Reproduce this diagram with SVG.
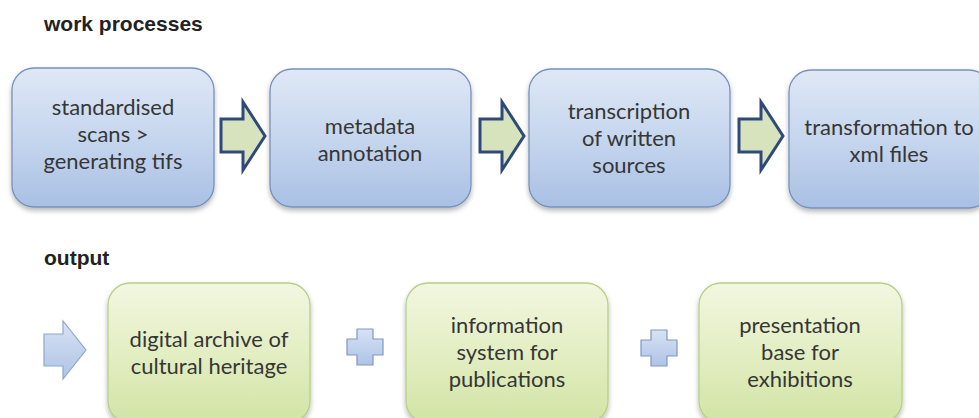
<svg xmlns="http://www.w3.org/2000/svg" width="979" height="418" viewBox="0 0 979 418">
  <defs>
    <linearGradient id="blueFill" x1="0" y1="0" x2="0" y2="1">
      <stop offset="0" stop-color="#dfe8f6"/>
      <stop offset="0.5" stop-color="#c6d6ee"/>
      <stop offset="1" stop-color="#a9c0e4"/>
    </linearGradient>
    <linearGradient id="greenFill" x1="0" y1="0" x2="0" y2="1">
      <stop offset="0" stop-color="#f2f7e1"/>
      <stop offset="0.5" stop-color="#e3eec3"/>
      <stop offset="1" stop-color="#d2e4a5"/>
    </linearGradient>
    <linearGradient id="smallBlue" x1="0" y1="0" x2="0" y2="1">
      <stop offset="0" stop-color="#d7e2f4"/>
      <stop offset="1" stop-color="#aec3e6"/>
    </linearGradient>
    <filter id="shadow" x="-10%" y="-10%" width="120%" height="125%">
      <feDropShadow dx="0" dy="3" stdDeviation="2.5" flood-color="#000" flood-opacity="0.28"/>
    </filter>
    <!-- right-pointing block arrow between process steps -->
    <path id="stepArrow" d="M221,119 H243 V102 L265,136 L243,170 V152 H221 Z"/>
    <!-- plus sign between outputs -->
    <path id="plusSign" d="M-8,-18 H8 V-8 H18 V8 H8 V18 H-8 V8 H-18 V-8 H-8 Z"/>
  </defs>
  <style>
    .title { font-family: "Liberation Sans", Arial, sans-serif; font-weight: bold; font-size: 21px; fill: #222; }
    .label { font-family: Lato, "Open Sans", sans-serif; font-size: 22px; fill: #363636; text-anchor: middle; }
    .procBox { fill: url(#blueFill); stroke: #7891bb; stroke-width: 1.3; filter: url(#shadow); }
    .outBox { fill: url(#greenFill); stroke: #b8cf86; stroke-width: 1.3; filter: url(#shadow); }
    .flow { fill: #d6e3bd; stroke: #2f4a7a; stroke-width: 3; stroke-linejoin: miter; }
    .lead { fill: url(#smallBlue); stroke: #8fa7d0; stroke-width: 1.2; }
    .plus { fill: url(#smallBlue); stroke: #7f97c2; stroke-width: 1.2; stroke-linejoin: round; }
  </style>

  <rect width="979" height="418" fill="#ffffff"/>

  <text class="title" x="44" y="31">work processes</text>
  <text class="title" x="44" y="265">output</text>

  <g id="connectors">
    <use href="#stepArrow" class="flow"/>
    <use href="#stepArrow" class="flow" transform="translate(259,0)"/>
    <use href="#stepArrow" class="flow" transform="translate(518,0)"/>
    <path class="lead" d="M44,334 H63 V321 L86,350 L63,379 V366 H44 Z"/>
    <use href="#plusSign" class="plus" transform="translate(365,347)"/>
    <use href="#plusSign" class="plus" transform="translate(659,348)"/>
  </g>

  <g id="scans">
    <rect class="procBox" x="12" y="68" width="202" height="139" rx="22"/>
    <text class="label" x="113" y="115">standardised</text>
    <text class="label" x="113" y="142">scans &gt;</text>
    <text class="label" x="113" y="169">generating tifs</text>
  </g>
  <g id="metadata">
    <rect class="procBox" x="270" y="69" width="201" height="138" rx="22"/>
    <text class="label" x="370" y="134">metadata</text>
    <text class="label" x="370" y="161">annotation</text>
  </g>
  <g id="transcription">
    <rect class="procBox" x="529" y="69" width="201" height="138" rx="22"/>
    <text class="label" x="629" y="119">transcription</text>
    <text class="label" x="629" y="146">of written</text>
    <text class="label" x="629" y="173">sources</text>
  </g>
  <g id="transformation">
    <rect class="procBox" x="789" y="70" width="202" height="138" rx="22"/>
    <text class="label" x="889" y="135">transformation to</text>
    <text class="label" x="889" y="162">xml files</text>
  </g>

  <g id="archive">
    <rect class="outBox" x="108" y="283" width="202" height="140" rx="22"/>
    <text class="label" x="209" y="347">digital archive of</text>
    <text class="label" x="209" y="374">cultural heritage</text>
  </g>
  <g id="infosystem">
    <rect class="outBox" x="406" y="283" width="202" height="140" rx="22"/>
    <text class="label" x="507" y="333">information</text>
    <text class="label" x="507" y="360">system for</text>
    <text class="label" x="507" y="387">publications</text>
  </g>
  <g id="presentation">
    <rect class="outBox" x="699" y="283" width="203" height="140" rx="22"/>
    <text class="label" x="800" y="333">presentation</text>
    <text class="label" x="800" y="360">base for</text>
    <text class="label" x="800" y="387">exhibitions</text>
  </g>
</svg>
